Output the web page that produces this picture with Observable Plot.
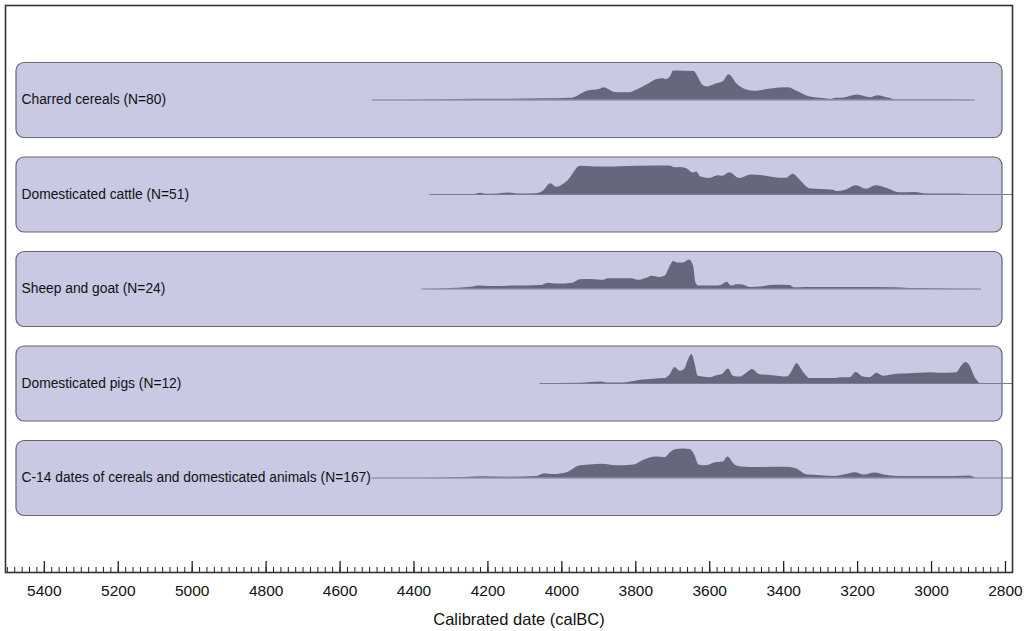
<!DOCTYPE html>
<html><head><meta charset="utf-8">
<script src="https://cdn.jsdelivr.net/npm/d3@7"></script>
<script src="https://cdn.jsdelivr.net/npm/@observablehq/plot@0.6"></script>
<style>
html,body{margin:0;padding:0;background:#fff;}
#chart svg{display:block;}
</style>
</head><body><div id="chart"></div>
<script>
// ---- Data ----
const categories = [
  "Charred cereals (N=80)",
  "Domesticated cattle (N=51)",
  "Sheep and goat (N=24)",
  "Domesticated pigs (N=12)",
  "C-14 dates of cereals and domesticated animals (N=167)"
];
// extent of the thin base line of each panel (calBC)
const rangeStart = [4513, 4357, 4378, 4059, 4513];
const rangeEnd   = [2882, 2781, 2865, 2781, 2781];

// summed probability, [year calBC, relative height 0..1]
const cereals = [[4513,0],[4348,0.01],[4221,0.03],[4140,0.03],[4048,0.04],[3978,0.06],[3967,0.08],[3932,0.3],[3896,0.37],[3886,0.42],[3861,0.28],[3850,0.25],[3815,0.25],[3804,0.3],[3780,0.45],[3758,0.6],[3745,0.7],[3723,0.73],[3718,0.7],[3704,0.85],[3699,0.99],[3688,1.0],[3642,0.98],[3632,0.8],[3618,0.5],[3607,0.45],[3583,0.55],[3562,0.65],[3548,0.87],[3526,0.55],[3502,0.35],[3480,0.3],[3434,0.38],[3388,0.42],[3364,0.3],[3328,0.1],[3293,0.05],[3272,0.02],[3258,0.06],[3236,0.07],[3201,0.17],[3166,0.08],[3144,0.15],[3120,0.08],[3096,0.01],[3039,0.01],[2882,0]];
const cattle = [[4357,0],[4236,0],[4220,0.04],[4205,0.01],[4172,0.02],[4141,0.05],[4120,0.02],[4067,0.03],[4051,0.1],[4030,0.37],[4014,0.25],[3999,0.32],[3978,0.55],[3962,0.85],[3951,0.97],[3909,0.95],[3856,0.95],[3793,0.97],[3709,0.98],[3693,0.92],[3682,0.93],[3661,0.88],[3645,0.74],[3635,0.78],[3624,0.6],[3603,0.55],[3577,0.65],[3566,0.63],[3545,0.75],[3519,0.55],[3487,0.67],[3456,0.65],[3424,0.58],[3393,0.56],[3374,0.7],[3356,0.5],[3329,0.2],[3298,0.17],[3266,0.15],[3255,0.1],[3234,0.14],[3203,0.3],[3176,0.18],[3150,0.3],[3118,0.2],[3087,0.06],[3045,0.07],[3013,0.02],[2929,0.02],[2897,0]];
const sheepGoat = [[4378,0],[4325,0.01],[4282,0.03],[4239,0.07],[4223,0.1],[4196,0.09],[4132,0.1],[4057,0.12],[4035,0.2],[4014,0.17],[3971,0.2],[3950,0.32],[3918,0.33],[3886,0.3],[3875,0.35],[3810,0.35],[3794,0.3],[3768,0.38],[3757,0.44],[3735,0.4],[3720,0.45],[3709,0.72],[3698,0.95],[3687,0.9],[3671,0.9],[3655,1.0],[3644,0.8],[3637,0.2],[3628,0.1],[3585,0.1],[3569,0.12],[3553,0.23],[3541,0.1],[3527,0.15],[3510,0.14],[3489,0.05],[3457,0.08],[3425,0.13],[3382,0.12],[3371,0.04],[3339,0.05],[3232,0.05],[3103,0.04],[3061,0.02],[3018,0.02],[2911,0],[2865,0]];
const pigs = [[4059,0],[3950,0.01],[3892,0.05],[3878,0.02],[3833,0.02],[3802,0.08],[3779,0.12],[3752,0.15],[3721,0.17],[3707,0.3],[3694,0.55],[3680,0.42],[3667,0.5],[3658,0.8],[3648,1.0],[3640,0.7],[3631,0.25],[3599,0.2],[3581,0.27],[3567,0.3],[3549,0.5],[3536,0.25],[3518,0.22],[3500,0.35],[3485,0.48],[3464,0.3],[3428,0.27],[3391,0.22],[3378,0.4],[3364,0.68],[3347,0.4],[3328,0.17],[3301,0.17],[3265,0.17],[3247,0.2],[3220,0.2],[3204,0.38],[3184,0.22],[3166,0.2],[3148,0.35],[3130,0.25],[3094,0.32],[3067,0.33],[3004,0.37],[2977,0.35],[2932,0.37],[2918,0.6],[2907,0.72],[2896,0.6],[2882,0.2],[2869,0]];
const allDates = [[4361,0],[4264,0.02],[4216,0.04],[4143,0.03],[4071,0.05],[4046,0.15],[4022,0.12],[3986,0.18],[3956,0.4],[3925,0.45],[3889,0.47],[3853,0.42],[3804,0.45],[3780,0.6],[3744,0.72],[3720,0.7],[3708,0.85],[3690,0.98],[3671,1.0],[3653,0.98],[3641,0.8],[3629,0.45],[3611,0.42],[3587,0.52],[3563,0.55],[3551,0.72],[3532,0.45],[3514,0.38],[3466,0.36],[3393,0.37],[3369,0.33],[3333,0.1],[3297,0.08],[3261,0.05],[3237,0.1],[3206,0.18],[3182,0.1],[3152,0.17],[3128,0.1],[3091,0.05],[3055,0.05],[2934,0.05],[2898,0.07],[2880,0]];

const majorTicks = [5400,5200,5000,4800,4600,4400,4200,4000,3800,3600,3400,3200,3000,2800];
const minorTicks = d3.range(5500, 2799, -20);
const axisLabel = "Calibrated date (calBC)";

// ---- Layout (in panel-step units of the y scale) ----
const seriesList = [cereals, cattle, sheepGoat, pigs, allDates];
const n = categories.length;
const RIDGE = 29 / 94.5;      // peak height relative to panel step
const PANEL_UP = 37 / 94.5;
const PANEL_DOWN = 38 / 94.5;
const MAJOR = 11 / 94.5;
const MINOR = 5 / 94.5;

const panels = categories.map((label, i) => ({label, k: n - i, start: rangeStart[i], end: rangeEnd[i]}));
const rows = seriesList.flatMap((pts, i) => pts.map(([year, v]) => ({i, k: n - i, year, v})));

const chart = Plot.plot({
  width: 1031,
  height: 631,
  marginLeft: 5,
  marginRight: 19,
  marginTop: 5,
  marginBottom: 59,
  x: {domain: [5505, 2781]},
  y: {domain: [0, n + 1], axis: null},
  style: {fontFamily: "'Liberation Sans', Arial, sans-serif", background: "#fff", color: "#111"},
  marks: [
    Plot.rect(panels, {
      y1: d => d.k - PANEL_DOWN, y2: d => d.k + PANEL_UP,
      insetLeft: 11, insetRight: 10, rx: 8,
      fill: "#c9c9e4", stroke: "#66666e", strokeWidth: 1.2
    }),
    Plot.ruleY(panels, {y: "k", x1: "start", x2: "end", stroke: "#7a7a90", strokeWidth: 1}),
    Plot.areaY(rows, {x: "year", y1: "k", y2: d => d.k + d.v * RIDGE, z: "i", fill: "#66667c", curve: "monotone-x"}),
    Plot.text(panels, {
      y: "k", frameAnchor: "left", dx: 16, text: "label", textAnchor: "start",
      fontSize: 13.8, fill: "#111"
    }),
    Plot.ruleX(minorTicks, {x: d => d, y1: 0, y2: MINOR, stroke: "#222", strokeWidth: 1}),
    Plot.ruleX(majorTicks, {x: d => d, y1: 0, y2: MAJOR, stroke: "#222", strokeWidth: 1.3}),
    Plot.axisX(majorTicks, {tickSize: 0, tickPadding: 12, fontSize: 15.5, tickFormat: d => String(d), label: null, fill: "#111"}),
    Plot.text([axisLabel], {text: d => d, frameAnchor: "bottom", dy: 52, dx: 10, fontSize: 16.5, fill: "#111"}),
    Plot.frame({stroke: "#333", strokeWidth: 1.6})
  ]
});
document.getElementById("chart").append(chart);
</script>
</body></html>
